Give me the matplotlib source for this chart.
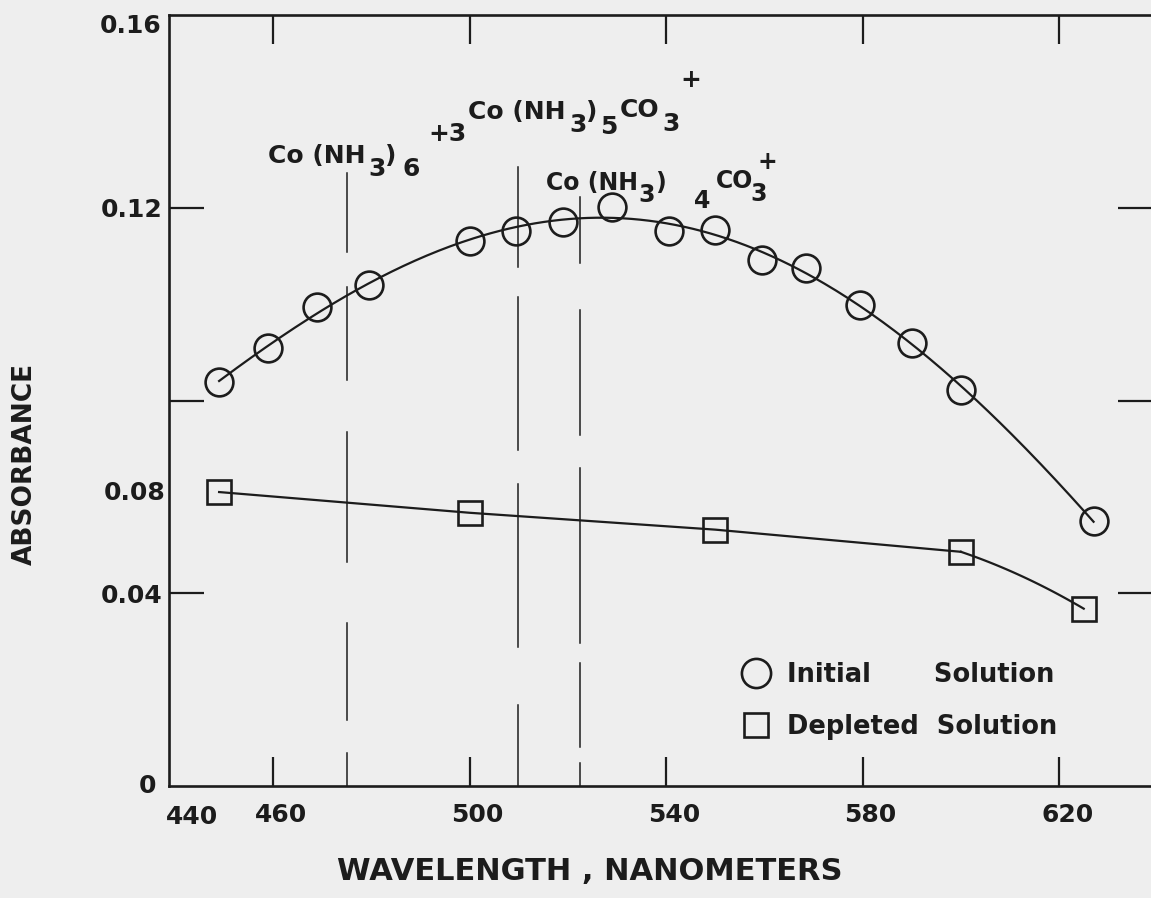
import numpy as np
import matplotlib
matplotlib.use("Agg")
import matplotlib.pyplot as plt
from matplotlib.transforms import ScaledTranslation

# ---------------------------------------------------------------------------
# Data
# ---------------------------------------------------------------------------
initial_nm = [449, 459, 469, 479.5, 500, 509.5, 519, 529, 540.5, 550, 559.5, 568.5, 579.5, 590, 600, 627]
initial_abs = [0.0839, 0.0909, 0.0995, 0.1040, 0.1130, 0.1152, 0.1171, 0.1202,
               0.1152, 0.1154, 0.1092, 0.1074, 0.0999, 0.0920, 0.0822, 0.0550]

depleted_nm = [449, 500, 550, 600, 625]
depleted_abs = [0.0610, 0.0567, 0.0532, 0.0486, 0.0368]

# broken vertical marker lines: x position and the drawn pieces (absorbance ranges)
marker_nm = [475.0, 509.8, 522.5]
marker_pieces = [
    [(0.1273, 0.1109), (0.1036, 0.0843), (0.0735, 0.0465), (0.0338, 0.0137), (0.0068, 0.0)],
    [(0.1285, 0.1078), (0.1015, 0.0698), (0.0626, 0.0289), (0.0168, 0.0)],
    [(0.1223, 0.1086), (0.0988, 0.0729), (0.0660, 0.0297), (0.0255, 0.0081), (0.0048, 0.0)],
]

x_ticks = [460, 500, 540, 580, 620]
y_ticks = [0.04, 0.08, 0.12]

INK = "#1c1c1c"
BG = "#eeeeee"
FONT = "DejaVu Sans"

W, H = 1151, 898
fig = plt.figure(figsize=(W / 100, H / 100), dpi=100, facecolor=BG)

# axes box in pixels (left, top, right, bottom)
L, T, R, B = 169, 15, 1153, 786
ax = fig.add_axes([L / W, 1 - B / H, (R - L) / W, (B - T) / H], facecolor=BG)
ax.set_xlim(438.8, 639.1)
ax.set_ylim(0, 0.16)

for s in ax.spines.values():
    s.set_linewidth(1.9)
    s.set_color(INK)

# smooth curve through the initial solution points
coef = np.polyfit(initial_nm, initial_abs, 4)
xs = np.linspace(initial_nm[0], initial_nm[-1], 300)
ax.plot(xs, np.polyval(coef, xs), color=INK, lw=1.6, zorder=2)
ax.plot(initial_nm, initial_abs, "o", ms=20, mfc="none", mec=INK, mew=1.9, zorder=3)

# depleted solution: straight run, then bending down at the end
ax.plot(depleted_nm[:4], depleted_abs[:4], color=INK, lw=1.6, zorder=2)
q = np.polyfit(depleted_nm[2:], depleted_abs[2:], 2)
xt = np.linspace(depleted_nm[3], depleted_nm[4], 50)
ax.plot(xt, np.polyval(q, xt), color=INK, lw=1.6, zorder=2)
ax.plot(depleted_nm, depleted_abs, "s", ms=17, mfc="none", mec=INK, mew=1.9, zorder=3)

for xm, pieces in zip(marker_nm, marker_pieces):
    for y0, y1 in pieces:
        ax.plot([xm, xm], [y0, y1], color=INK, lw=1.1, zorder=1)

# ticks: inward on all four sides
ax.set_xticks(x_ticks)
ax.set_yticks(y_ticks)
ax.set_xticklabels([str(v) for v in x_ticks])
ax.set_yticklabels(["0.04", "", "0.12"])
ax.tick_params(axis="both", direction="in", width=1.6, color=INK,
               labelsize=18, labelcolor=INK)
ax.tick_params(axis="x", top=True, pad=12, length=21)
ax.tick_params(axis="y", right=True, pad=5, length=25)
shift = ScaledTranslation(8 / 100, 0, fig.dpi_scale_trans)
for lab in ax.get_xticklabels():
    lab.set_transform(lab.get_transform() + shift)
for lab in ax.get_xticklabels() + ax.get_yticklabels():
    lab.set_fontweight("bold")
    lab.set_family(FONT)

# corner labels and the misplaced 0.08 label, as on the original
tk = dict(fontsize=18, fontweight="bold", color=INK, family=FONT)
ax.text(443.5, -0.004, "440", ha="center", va="top", **tk)
ax.text(-0.013, 0.0, "0", ha="right", va="center", transform=ax.get_yaxis_transform(), **tk)
ax.text(-0.008, 0.1577, "0.16", ha="right", va="center", transform=ax.get_yaxis_transform(), **tk)
ax.text(-0.004, 0.0608, "0.08", ha="right", va="center", transform=ax.get_yaxis_transform(), **tk)

fig.text(590 / W, 1 - 871 / H, "WAVELENGTH , NANOMETERS", ha="center", va="center",
         fontsize=22, fontweight="bold", color=INK, family=FONT)
fig.text(25 / W, 1 - 464 / H, "ABSORBANCE", ha="center", va="center", rotation=90,
         fontsize=19, fontweight="bold", color=INK, family=FONT)


def put(px, py, s, size=18):
    fig.text(px / W, 1 - py / H, s, ha="left", va="center", fontsize=size,
             fontweight="bold", color=INK, family=FONT)


# species labels
put(268, 156, "Co (NH")
put(368, 169, "3")
put(385, 156, ")")
put(402, 169, "6")
put(428, 134, "+3")

put(468, 112, "Co (NH")
put(569, 125, "3")
put(586, 112, ")")
put(600, 127, "5")
put(620, 110, "CO")
put(662, 124, "3")
put(680, 80, "+")

put(546, 183, "Co (NH", 17)
put(638, 195, "3", 17)
put(655, 183, ")", 17)
put(694, 201, "4", 17)
put(716, 181, "CO", 17)
put(750, 194, "3", 17)
put(757, 162, "+", 17)

# legend
leg = ax.legend(
    [plt.Line2D([], [], ls="none", marker="o", ms=21, mfc="none", mec=INK, mew=1.9),
     plt.Line2D([], [], ls="none", marker="s", ms=17, mfc="none", mec=INK, mew=1.9)],
    ["Initial       Solution", "Depleted  Solution"],
    loc="center left", bbox_to_anchor=((720 - L) / (R - L), (B - 701) / (B - T)),
    frameon=False, handletextpad=0.2, labelspacing=1.0, borderaxespad=0,
    prop=dict(family=FONT, weight="bold", size=18.5))
for t in leg.get_texts():
    t.set_color(INK)

fig.savefig("out.png", dpi=100, facecolor=BG)
